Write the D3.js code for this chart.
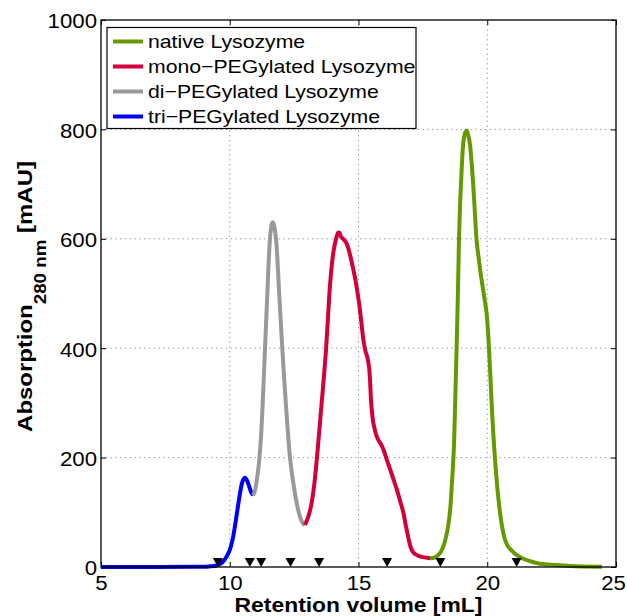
<!DOCTYPE html>
<html>
<head>
<meta charset="utf-8">
<script src="https://cdn.jsdelivr.net/npm/d3@7"></script>
<style>
  html, body { margin: 0; padding: 0; background: #fff; }
  svg { display: block; font-family: "Liberation Sans", Arial, Helvetica, sans-serif; }
</style>
</head>
<body>
<svg id="chart" width="627" height="616"></svg>
<script>
// Size-exclusion chromatograms of lysozyme and its PEGylated forms
// [retention volume (mL), absorption at 280 nm (mAU)]
const triPEG = [
  [5, 0], [7, 0], [8.5, 0.3], [9.2, 1], [9.5, 3], [9.7, 8], [9.85, 17], [10.0, 31],
  [10.1, 48], [10.2, 74], [10.3, 105], [10.4, 135], [10.5, 157], [10.59, 163],
  [10.67, 158], [10.75, 148], [10.83, 137], [10.91, 131]
];
const diPEG = [
  [10.91, 131], [10.97, 138], [11.03, 152], [11.09, 172], [11.15, 198], [11.21, 235],
  [11.29, 310], [11.37, 400], [11.46, 500], [11.53, 575], [11.59, 615], [11.64, 628],
  [11.68, 630], [11.73, 622], [11.8, 598], [11.92, 500], [12.04, 400], [12.18, 298],
  [12.34, 200], [12.47, 153], [12.6, 117], [12.72, 93], [12.84, 80], [12.92, 77]
];
const monoPEG = [
  [12.92, 77], [13.02, 88], [13.1, 100], [13.18, 117], [13.28, 150], [13.38, 196],
  [13.47, 245], [13.57, 300], [13.66, 350], [13.74, 398], [13.82, 460], [13.89, 513],
  [13.96, 550], [14.02, 574], [14.09, 592], [14.15, 604], [14.21, 611], [14.26, 611],
  [14.33, 603], [14.4, 600], [14.48, 596], [14.55, 590], [14.62, 580], [14.7, 565],
  [14.78, 548], [14.86, 530], [14.95, 505], [15.03, 480], [15.11, 448], [15.19, 415],
  [15.27, 395], [15.35, 382], [15.41, 365], [15.45, 340], [15.48, 310], [15.52, 285],
  [15.57, 265], [15.64, 250], [15.72, 237], [15.8, 230], [15.9, 222], [15.99, 212],
  [16.1, 196], [16.22, 180], [16.36, 160], [16.5, 140], [16.62, 120], [16.74, 100],
  [16.84, 75], [16.93, 55], [17.0, 40], [17.07, 31], [17.16, 25], [17.3, 21],
  [17.5, 18], [17.78, 16]
];
const nativeLys = [
  [17.78, 16], [17.95, 17], [18.1, 22], [18.2, 28], [18.29, 37], [18.4, 55],
  [18.49, 78], [18.56, 105], [18.62, 147], [18.67, 185], [18.71, 225], [18.76, 310],
  [18.81, 400], [18.86, 500], [18.9, 595], [18.95, 670], [19.01, 730], [19.07, 775],
  [19.13, 792], [19.2, 798], [19.26, 790], [19.33, 772], [19.4, 735], [19.46, 695],
  [19.53, 640], [19.59, 595], [19.68, 560], [19.78, 525], [19.88, 495], [19.98, 462],
  [20.03, 430], [20.07, 398], [20.12, 350], [20.17, 300], [20.24, 240], [20.3, 198],
  [20.4, 140], [20.5, 98], [20.6, 68], [20.69, 50], [20.8, 38], [20.95, 30],
  [21.14, 22], [21.4, 15], [21.7, 10], [21.95, 7], [22.5, 4], [23.2, 2], [24.45, 0.5]
];

// Collected fractions (mL), marked with triangles on the baseline
const fractionMarks = [9.54, 10.78, 11.22, 12.36, 13.47, 16.11, 18.18, 21.14];

const xTicks = [5, 10, 15, 20, 25];
const yTicks = [0, 200, 400, 600, 800, 1000];

const seriesNames = ["native Lysozyme", "mono\u2212PEGylated Lysozyme", "di\u2212PEGylated Lysozyme", "tri\u2212PEGylated Lysozyme"];
const seriesColors = ["#669900", "#d2003a", "#999999", "#0000ff"];
const seriesData = [nativeLys, monoPEG, diPEG, triPEG];

const svg = d3.select("#chart");
const W = 627, H = 616;
const m = { left: 101, right: 11, top: 20, bottom: 49 };
const pw = W - m.left - m.right, ph = H - m.top - m.bottom;

const x = d3.scaleLinear().domain([5, 25]).range([m.left, m.left + pw]);
const y = d3.scaleLinear().domain([0, 1000]).range([m.top + ph, m.top]);

const TXS = 1.14; // horizontal stretch of the text

// dotted grid
const grid = svg.append("g").attr("stroke", "#8c8c8c").attr("stroke-width", 1)
  .attr("stroke-dasharray", "1.2,3.6");
grid.selectAll("line.gx").data(xTicks.slice(1, -1)).join("line")
  .attr("x1", d => x(d)).attr("x2", d => x(d))
  .attr("y1", m.top).attr("y2", m.top + ph);
grid.selectAll("line.gy").data(yTicks.slice(1, -1)).join("line")
  .attr("x1", m.left).attr("x2", m.left + pw)
  .attr("y1", d => y(d)).attr("y2", d => y(d));

// axes with inward ticks
const fontTick = 19.5;
const fmt = d3.format("d");
const xAxis = svg.append("g").attr("transform", `translate(0,${m.top + ph})`)
  .call(d3.axisBottom(x).tickValues(xTicks).tickFormat(fmt).tickSizeInner(-5).tickSizeOuter(0).tickPadding(9));
const yAxis = svg.append("g").attr("transform", `translate(${m.left},0)`)
  .call(d3.axisLeft(y).tickValues(yTicks).tickFormat(fmt).tickSizeInner(-5).tickSizeOuter(0).tickPadding(4));
svg.append("g").attr("transform", `translate(0,${m.top})`)
  .call(d3.axisTop(x).tickValues(xTicks).tickSizeInner(-5).tickSizeOuter(0).tickFormat(""));
svg.append("g").attr("transform", `translate(${m.left + pw},0)`)
  .call(d3.axisRight(y).tickValues(yTicks).tickSizeInner(-5).tickSizeOuter(0).tickFormat(""));
svg.selectAll(".domain").remove();
svg.selectAll(".tick line").attr("stroke", "#000").attr("stroke-width", 1);
svg.selectAll("g[font-family]").attr("font-family", null);

// the last x label is nudged left so it stays inside the figure
xAxis.selectAll(".tick text")
  .attr("font-size", fontTick).attr("fill", "#000")
  .attr("transform", function (d) {
    const shift = d === xTicks[xTicks.length - 1] ? -3 : 0;
    return `translate(${shift},${this.getAttribute("y")}) scale(${TXS},1)`;
  })
  .attr("y", 0).attr("dy", "0.71em");
yAxis.selectAll(".tick text")
  .attr("font-size", fontTick).attr("fill", "#000")
  .attr("transform", `translate(-4,0) scale(${TXS},1)`)
  .attr("x", 0).attr("dy", "0.4em");

// chromatogram traces
const line = d3.line().x(d => x(d[0])).y(d => y(d[1])).curve(d3.curveCatmullRom.alpha(0.5));
const drawOrder = [3, 2, 1, 0];
svg.append("g").selectAll("path").data(drawOrder).join("path")
  .attr("d", i => line(seriesData[i]))
  .attr("fill", "none")
  .attr("stroke", i => seriesColors[i])
  .attr("stroke-width", 4)
  .attr("stroke-linejoin", "round")
  .attr("stroke-linecap", "butt");

// fraction markers
svg.append("g").selectAll("path").data(fractionMarks).join("path")
  .attr("d", d => {
    const cx = x(d), by = y(0);
    return `M${cx - 5},${by - 9}L${cx + 5},${by - 9}L${cx},${by}Z`;
  })
  .attr("fill", "#000");

// plot frame
svg.append("rect")
  .attr("x", m.left).attr("y", m.top).attr("width", pw).attr("height", ph)
  .attr("fill", "none").attr("stroke", "#000").attr("stroke-width", 1.3);

// legend
const lg = svg.append("g");
lg.append("rect").attr("x", 107).attr("y", 27.5).attr("width", 309).attr("height", 101)
  .attr("fill", "#fff").attr("stroke", "#000").attr("stroke-width", 1.2);
const rows = lg.selectAll("g.row").data(seriesNames).join("g")
  .attr("class", "row")
  .attr("transform", (d, i) => `translate(0,${41.5 + i * 25})`);
rows.append("line").attr("x1", 113).attr("x2", 143).attr("y1", 0).attr("y2", 0)
  .attr("stroke", (d, i) => seriesColors[i]).attr("stroke-width", 4);
rows.append("text")
  .attr("transform", `translate(148,6.6) scale(1.16,1)`)
  .attr("font-size", 18.3).attr("fill", "#000")
  .text(d => d);

// axis titles
svg.append("text")
  .attr("transform", `translate(${x(15)},611.5) scale(1.09,1)`)
  .attr("text-anchor", "middle").attr("font-size", 21).attr("font-weight", "bold")
  .text("Retention volume [mL]");

const yt = svg.append("text")
  .attr("transform", `translate(31.7,${m.top + ph / 2 + 3}) rotate(-90) scale(${TXS},1)`)
  .attr("text-anchor", "middle").attr("font-size", 21).attr("font-weight", "bold");
yt.append("tspan").text("Absorption");
yt.append("tspan").attr("font-size", 16.5).attr("dy", 13.8).text("280 nm");
yt.append("tspan").attr("dy", -13.8).text(" [mAU]");
</script>
</body>
</html>
